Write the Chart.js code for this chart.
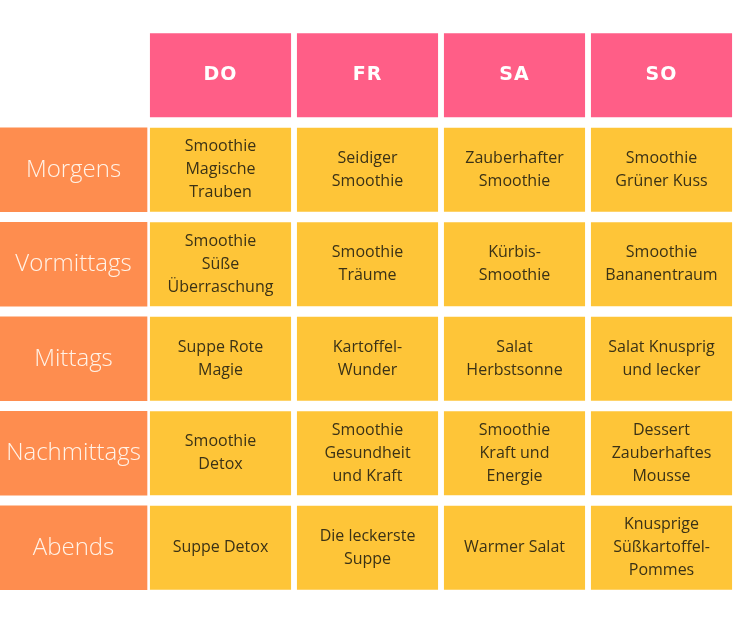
<!DOCTYPE html>
<html>
<head>
<meta charset="utf-8">
<script src="https://cdn.jsdelivr.net/npm/chart.js@4/dist/chart.umd.min.js"></script>
<style>
body{margin:0;background:#fff;}
canvas{display:block;}
</style>
</head>
<body>
<canvas id="plan" width="750" height="629"></canvas>
<script>
// Wochenplan data

const days = ["DO","FR","SA","SO"];

const slots = ["Morgens","Vormittags","Mittags","Nachmittags","Abends"];

const meals = [
  ["Smoothie\nMagische\nTrauben","Seidiger\nSmoothie","Zauberhafter\nSmoothie","Smoothie\nGrüner Kuss"],
  ["Smoothie\nSüße\nÜberraschung","Smoothie\nTräume","Kürbis-\nSmoothie","Smoothie\nBananentraum"],
  ["Suppe Rote\nMagie","Kartoffel-\nWunder","Salat\nHerbstsonne","Salat Knusprig\nund lecker"],
  ["Smoothie\nDetox","Smoothie\nGesundheit\nund Kraft","Smoothie\nKraft und\nEnergie","Dessert\nZauberhaftes\nMousse"],
  ["Suppe Detox","Die leckerste\nSuppe","Warmer Salat","Knusprige\nSüßkartoffel-\nPommes"]
];

const PINK = "#ff5e87", YELLOW = "#fec538", ORANGE = "#fe8d4f";
const inset = 0.056;

// row r of the grid (0 = header) as floating bar [top, bottom]
function band(r){ return [r + inset, r + 1 - inset]; }

const datasets = [];

// header row
datasets.push({
  kind: "head", row: 0,
  data: [null].concat(days.map(() => band(0))),
  backgroundColor: PINK,
  barPercentage: 0.96, categoryPercentage: 1
});

slots.forEach((s, i) => {
  datasets.push({
    kind: "slot", row: i + 1,
    data: [band(i + 1), null, null, null, null],
    backgroundColor: ORANGE,
    barPercentage: 1.0, categoryPercentage: 1
  });
  datasets.push({
    kind: "meal", row: i + 1,
    data: [null].concat(days.map(() => band(i + 1))),
    backgroundColor: YELLOW,
    barPercentage: 0.96, categoryPercentage: 1
  });
});

// cell texts
const cellText = {
  id: "cellText",
  afterDatasetsDraw(chart){
    const ctx = chart.ctx;
    ctx.save();
    ctx.textAlign = "center";
    ctx.textBaseline = "middle";
    chart.data.datasets.forEach((ds, di) => {
      const meta = chart.getDatasetMeta(di);
      meta.data.forEach((bar, ci) => {
        if (ds.data[ci] == null) return;
        const cx = bar.x, cy = (bar.y + bar.base) / 2;
        let lines, lh;
        if (ds.kind === "head") {
          ctx.font = "bold 19px 'DejaVu Sans', sans-serif";
          ctx.fillStyle = "#ffffff";
          ctx.letterSpacing = "1px";
          lines = [days[ci - 1]]; lh = 0;
        } else if (ds.kind === "slot") {
          ctx.font = "300 24px 'Open Sans', sans-serif";
          ctx.fillStyle = "#fff3e8";
          ctx.letterSpacing = "0px";
          lines = [slots[ds.row - 1]]; lh = 0;
        } else {
          ctx.font = "16px 'Open Sans', sans-serif";
          ctx.fillStyle = "#3b3216";
          ctx.letterSpacing = "0px";
          lines = meals[ds.row - 1][ci - 1].split("\n"); lh = 23;
        }
        const y0 = cy - (lines.length - 1) * lh / 2;
        lines.forEach((t, k) => ctx.fillText(t, cx, y0 + k * lh));
      });
    });
    ctx.restore();
  }
};

new Chart(document.getElementById("plan"), {
  type: "bar",
  data: {
    labels: [""].concat(days),
    datasets: datasets
  },
  options: {
    responsive: false,
    animation: false,
    datasets: { bar: { grouped: false } },
    layout: { padding: { left: 0, right: 15, top: 28, bottom: 34 } },
    scales: {
      x: { display: false },
      y: { display: false, min: 0, max: 6, reverse: true }
    },
    plugins: { legend: { display: false }, tooltip: { enabled: false } }
  },
  plugins: [cellText]
});
</script>
</body>
</html>
